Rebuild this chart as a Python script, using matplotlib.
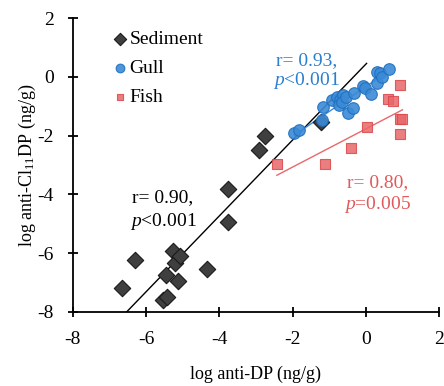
import matplotlib
matplotlib.use("Agg")
import matplotlib.pyplot as plt
import numpy as np

plt.rcParams['font.family'] = ['Liberation Serif', 'DejaVu Serif']
plt.rcParams['mathtext.fontset'] = 'custom'
plt.rcParams['mathtext.rm'] = 'Liberation Serif'
plt.rcParams['mathtext.it'] = 'Liberation Serif:italic'
plt.rcParams['axes.unicode_minus'] = False

sed_x = [-6.67, -6.31, -5.46, -5.53, -5.42, -5.26, -5.21, -5.08, -5.12, -4.35, -3.77, -3.76, -2.91, -2.74, -1.22]
sed_y = [-7.20, -6.22, -6.76, -7.58, -7.50, -5.94, -6.33, -6.10, -6.95, -6.53, -4.94, -3.82, -2.50, -2.00, -1.52]

gull_x = [-1.95, -1.83, -1.20, -1.16, -0.93, -0.80, -0.70, -0.72, -0.62, -0.65, -0.55, -0.48, -0.34, -0.32, -0.07, -0.02, 0.14, 0.30, 0.30, 0.39, 0.43, 0.63]
gull_y = [-1.92, -1.80, -1.46, -1.03, -0.78, -0.67, -0.78, -0.95, -0.60, -0.85, -0.70, -1.24, -1.07, -0.54, -0.31, -0.39, -0.59, -0.20, 0.18, 0.12, -0.01, 0.26]

fish_x = [-2.43, -1.11, -0.40, 0.02, 0.61, 0.74, 0.93, 0.93, 0.99, 0.93]
fish_y = [-2.96, -2.96, -2.43, -1.69, -0.76, -0.81, -0.29, -1.44, -1.44, -1.95]

# regression line end points
sed_line_x = [-6.53, 0.02]
sed_line_y = [-8.0, 0.46]
gull_line_x = [-1.95, 0.45]
gull_line_y = [-1.98, 0.05]
fish_line_x = [-2.43, 1.0]
fish_line_y = [-3.35, -1.12]

blue = '#3b8ad6'
blue_edge = '#1f6fbf'
blue_text = '#2a7fd0'
red = '#e8686a'
red_edge = '#d9484b'
red_text = '#e05a5c'

fig = plt.figure(figsize=(4.44, 3.86), dpi=100)
ax = fig.add_axes([0.164, 0.192, 0.825, 0.761])

ax.plot(sed_line_x, sed_line_y, color='black', lw=1.0, zorder=2)
ax.plot(gull_line_x, gull_line_y, color=blue, lw=1.0, zorder=2)
ax.plot(fish_line_x, fish_line_y, color=red, lw=1.0, zorder=2)

ax.scatter(sed_x, sed_y, marker='D', s=70, facecolor='#3f3f3f', edgecolor='#1a1a1a', lw=0.8, zorder=3, label='Sediment')
ax.scatter(gull_x, gull_y, marker='o', s=70, facecolor=blue, edgecolor=blue_edge, lw=0.8, alpha=0.9, zorder=4, label='Gull')
ax.scatter(fish_x, fish_y, marker='s', s=45, facecolor=red, edgecolor=red_edge, lw=0.8, alpha=0.85, zorder=3, label='Fish')

ax.set_xlim(-8, 2)
ax.set_ylim(-8, 2)
ax.set_xticks([-8, -6, -4, -2, 0, 2])
ax.set_yticks([-8, -6, -4, -2, 0, 2])
for s in ['top', 'right']:
    ax.spines[s].set_visible(False)
for s in ['left', 'bottom']:
    ax.spines[s].set_linewidth(1.3)
ax.tick_params(direction='inout', length=7, width=1.3, labelsize=14)
ax.tick_params(axis='x', pad=10)
ax.tick_params(axis='y', pad=10)

ax.set_xlabel('log anti-DP (ng/g)', fontsize=13, labelpad=13)
ax.set_ylabel(r'log anti-Cl$_{11}$DP (ng/g)', fontsize=13, labelpad=0)

ax.text(-1.63, 0.57, 'r= 0.93,', color=blue_text, fontsize=14, ha='center', va='center')
ax.text(-1.63, -0.12, r'$\it{p}$<0.001', color=blue_text, fontsize=14, ha='center', va='center')
ax.text(0.31, -3.6, 'r= 0.80,', color=red_text, fontsize=14, ha='center', va='center')
ax.text(0.31, -4.35, r'$\it{p}$=0.005', color=red_text, fontsize=14, ha='center', va='center')
ax.text(-5.54, -4.11, 'r= 0.90,', color='black', fontsize=14, ha='center', va='center')
ax.text(-5.54, -4.93, r'$\it{p}$<0.001', color='black', fontsize=14, ha='center', va='center')

ax.legend(loc='upper left', bbox_to_anchor=(0.075, 0.985), frameon=False, fontsize=14,
          handletextpad=-0.1, labelspacing=0.6, borderaxespad=0, handlelength=1.2,
          markerscale=0.75)

fig.savefig('out.png', dpi=100)
